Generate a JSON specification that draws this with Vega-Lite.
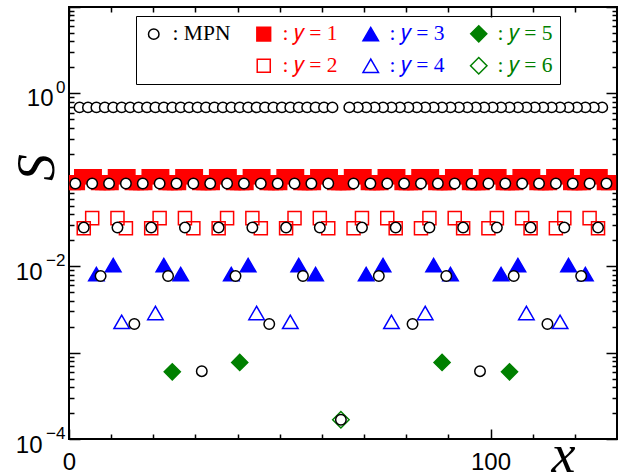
{
  "$schema": "https://vega.github.io/schema/vega-lite/v6.json",
  "width": 548,
  "height": 432,
  "autosize": "none",
  "padding": {"left": 69, "top": 7, "right": 8, "bottom": 37},
  "background": "white",
  "config": {
    "view": {"stroke": "black", "strokeWidth": 2},
    "axis": {"grid": false, "domain": false, "tickColor": "black", "tickWidth": 1.5, "labelColor": "black", "titleColor": "black"}
  },
  "data": {"values": [
    {"series":"y1","x":1,"S":0.093},{"series":"y1","x":2,"S":0.093},{"series":"y1","x":3,"S":0.109},{"series":"y1","x":4,"S":0.109},{"series":"y1","x":5,"S":0.109},{"series":"y1","x":6,"S":0.109},{"series":"y1","x":7,"S":0.093},{"series":"y1","x":8,"S":0.093},
    {"series":"y1","x":9,"S":0.093},{"series":"y1","x":10,"S":0.093},{"series":"y1","x":11,"S":0.109},{"series":"y1","x":12,"S":0.109},{"series":"y1","x":13,"S":0.109},{"series":"y1","x":14,"S":0.109},{"series":"y1","x":15,"S":0.093},{"series":"y1","x":16,"S":0.093},
    {"series":"y1","x":17,"S":0.093},{"series":"y1","x":18,"S":0.093},{"series":"y1","x":19,"S":0.109},{"series":"y1","x":20,"S":0.109},{"series":"y1","x":21,"S":0.109},{"series":"y1","x":22,"S":0.109},{"series":"y1","x":23,"S":0.093},{"series":"y1","x":24,"S":0.093},
    {"series":"y1","x":25,"S":0.093},{"series":"y1","x":26,"S":0.093},{"series":"y1","x":27,"S":0.109},{"series":"y1","x":28,"S":0.109},{"series":"y1","x":29,"S":0.109},{"series":"y1","x":30,"S":0.109},{"series":"y1","x":31,"S":0.093},{"series":"y1","x":32,"S":0.093},
    {"series":"y1","x":33,"S":0.093},{"series":"y1","x":34,"S":0.093},{"series":"y1","x":35,"S":0.109},{"series":"y1","x":36,"S":0.109},{"series":"y1","x":37,"S":0.109},{"series":"y1","x":38,"S":0.109},{"series":"y1","x":39,"S":0.093},{"series":"y1","x":40,"S":0.093},
    {"series":"y1","x":41,"S":0.093},{"series":"y1","x":42,"S":0.093},{"series":"y1","x":43,"S":0.109},{"series":"y1","x":44,"S":0.109},{"series":"y1","x":45,"S":0.109},{"series":"y1","x":46,"S":0.109},{"series":"y1","x":47,"S":0.093},{"series":"y1","x":48,"S":0.093},
    {"series":"y1","x":49,"S":0.093},{"series":"y1","x":50,"S":0.093},{"series":"y1","x":51,"S":0.109},{"series":"y1","x":52,"S":0.109},{"series":"y1","x":53,"S":0.109},{"series":"y1","x":54,"S":0.109},{"series":"y1","x":55,"S":0.093},{"series":"y1","x":56,"S":0.093},
    {"series":"y1","x":57,"S":0.093},{"series":"y1","x":58,"S":0.093},{"series":"y1","x":59,"S":0.109},{"series":"y1","x":60,"S":0.109},{"series":"y1","x":61,"S":0.109},{"series":"y1","x":62,"S":0.109},{"series":"y1","x":63,"S":0.093},{"series":"y1","x":64,"S":0.093},
    {"series":"y1","x":65,"S":0.093},{"series":"y1","x":66,"S":0.093},{"series":"y1","x":67,"S":0.109},{"series":"y1","x":68,"S":0.109},{"series":"y1","x":69,"S":0.109},{"series":"y1","x":70,"S":0.109},{"series":"y1","x":71,"S":0.093},{"series":"y1","x":72,"S":0.093},
    {"series":"y1","x":73,"S":0.093},{"series":"y1","x":74,"S":0.093},{"series":"y1","x":75,"S":0.109},{"series":"y1","x":76,"S":0.109},{"series":"y1","x":77,"S":0.109},{"series":"y1","x":78,"S":0.109},{"series":"y1","x":79,"S":0.093},{"series":"y1","x":80,"S":0.093},
    {"series":"y1","x":81,"S":0.093},{"series":"y1","x":82,"S":0.093},{"series":"y1","x":83,"S":0.109},{"series":"y1","x":84,"S":0.109},{"series":"y1","x":85,"S":0.109},{"series":"y1","x":86,"S":0.109},{"series":"y1","x":87,"S":0.093},{"series":"y1","x":88,"S":0.093},
    {"series":"y1","x":89,"S":0.093},{"series":"y1","x":90,"S":0.093},{"series":"y1","x":91,"S":0.109},{"series":"y1","x":92,"S":0.109},{"series":"y1","x":93,"S":0.109},{"series":"y1","x":94,"S":0.109},{"series":"y1","x":95,"S":0.093},{"series":"y1","x":96,"S":0.093},
    {"series":"y1","x":97,"S":0.093},{"series":"y1","x":98,"S":0.093},{"series":"y1","x":99,"S":0.109},{"series":"y1","x":100,"S":0.109},{"series":"y1","x":101,"S":0.109},{"series":"y1","x":102,"S":0.109},{"series":"y1","x":103,"S":0.093},{"series":"y1","x":104,"S":0.093},
    {"series":"y1","x":105,"S":0.093},{"series":"y1","x":106,"S":0.093},{"series":"y1","x":107,"S":0.109},{"series":"y1","x":108,"S":0.109},{"series":"y1","x":109,"S":0.109},{"series":"y1","x":110,"S":0.109},{"series":"y1","x":111,"S":0.093},{"series":"y1","x":112,"S":0.093},
    {"series":"y1","x":113,"S":0.093},{"series":"y1","x":114,"S":0.093},{"series":"y1","x":115,"S":0.109},{"series":"y1","x":116,"S":0.109},{"series":"y1","x":117,"S":0.109},{"series":"y1","x":118,"S":0.109},{"series":"y1","x":119,"S":0.093},{"series":"y1","x":120,"S":0.093},
    {"series":"y1","x":121,"S":0.093},{"series":"y1","x":122,"S":0.093},{"series":"y1","x":123,"S":0.109},{"series":"y1","x":124,"S":0.109},{"series":"y1","x":125,"S":0.109},{"series":"y1","x":126,"S":0.109},{"series":"y1","x":127,"S":0.093},{"series":"y1","x":128,"S":0.093},

    {"series":"y2","x":3.5,"S":0.0275},{"series":"y2","x":5.5,"S":0.036},{"series":"y2","x":11.5,"S":0.036},{"series":"y2","x":13.5,"S":0.0275},
    {"series":"y2","x":19.5,"S":0.0275},{"series":"y2","x":21.5,"S":0.036},{"series":"y2","x":27.5,"S":0.036},{"series":"y2","x":29.5,"S":0.0275},
    {"series":"y2","x":35.5,"S":0.0275},{"series":"y2","x":37.5,"S":0.036},{"series":"y2","x":43.5,"S":0.036},{"series":"y2","x":45.5,"S":0.0275},
    {"series":"y2","x":51.5,"S":0.0275},{"series":"y2","x":53.5,"S":0.036},{"series":"y2","x":59.5,"S":0.036},{"series":"y2","x":61.5,"S":0.0275},
    {"series":"y2","x":67.5,"S":0.0275},{"series":"y2","x":69.5,"S":0.036},{"series":"y2","x":75.5,"S":0.036},{"series":"y2","x":77.5,"S":0.0275},
    {"series":"y2","x":83.5,"S":0.0275},{"series":"y2","x":85.5,"S":0.036},{"series":"y2","x":91.5,"S":0.036},{"series":"y2","x":93.5,"S":0.0275},
    {"series":"y2","x":99.5,"S":0.0275},{"series":"y2","x":101.5,"S":0.036},{"series":"y2","x":107.5,"S":0.036},{"series":"y2","x":109.5,"S":0.0275},
    {"series":"y2","x":115.5,"S":0.0275},{"series":"y2","x":117.5,"S":0.036},{"series":"y2","x":123.5,"S":0.036},{"series":"y2","x":125.5,"S":0.0275},

    {"series":"y3","x":6.5,"S":0.0081},{"series":"y3","x":10.5,"S":0.0103},{"series":"y3","x":22.5,"S":0.0103},{"series":"y3","x":26.5,"S":0.0081},
    {"series":"y3","x":38.5,"S":0.0081},{"series":"y3","x":42.5,"S":0.0103},{"series":"y3","x":54.5,"S":0.0103},{"series":"y3","x":58.5,"S":0.0081},
    {"series":"y3","x":70.5,"S":0.0081},{"series":"y3","x":74.5,"S":0.0103},{"series":"y3","x":86.5,"S":0.0103},{"series":"y3","x":90.5,"S":0.0081},
    {"series":"y3","x":102.5,"S":0.0081},{"series":"y3","x":106.5,"S":0.0103},{"series":"y3","x":118.5,"S":0.0103},{"series":"y3","x":122.5,"S":0.0081},

    {"series":"y4","x":12.5,"S":0.00227},{"series":"y4","x":20.5,"S":0.00287},{"series":"y4","x":44.5,"S":0.00287},{"series":"y4","x":52.5,"S":0.00227},
    {"series":"y4","x":76.5,"S":0.00227},{"series":"y4","x":84.5,"S":0.00287},{"series":"y4","x":108.5,"S":0.00287},{"series":"y4","x":116.5,"S":0.00227},

    {"series":"y5","x":24.5,"S":0.0006},{"series":"y5","x":40.5,"S":0.00077},{"series":"y5","x":88.5,"S":0.00077},{"series":"y5","x":104.5,"S":0.0006},

    {"series":"y6","x":64.5,"S":0.000167},

    {"series":"MPN","x":2.5,"S":0.689},{"series":"MPN","x":4.5,"S":0.689},{"series":"MPN","x":6.5,"S":0.689},{"series":"MPN","x":8.5,"S":0.689},{"series":"MPN","x":10.5,"S":0.689},{"series":"MPN","x":12.5,"S":0.689},{"series":"MPN","x":14.5,"S":0.689},{"series":"MPN","x":16.5,"S":0.689},
    {"series":"MPN","x":18.5,"S":0.689},{"series":"MPN","x":20.5,"S":0.689},{"series":"MPN","x":22.5,"S":0.689},{"series":"MPN","x":24.5,"S":0.689},{"series":"MPN","x":26.5,"S":0.689},{"series":"MPN","x":28.5,"S":0.689},{"series":"MPN","x":30.5,"S":0.689},{"series":"MPN","x":32.5,"S":0.689},
    {"series":"MPN","x":34.5,"S":0.689},{"series":"MPN","x":36.5,"S":0.689},{"series":"MPN","x":38.5,"S":0.689},{"series":"MPN","x":40.5,"S":0.689},{"series":"MPN","x":42.5,"S":0.689},{"series":"MPN","x":44.5,"S":0.689},{"series":"MPN","x":46.5,"S":0.689},{"series":"MPN","x":48.5,"S":0.689},
    {"series":"MPN","x":50.5,"S":0.689},{"series":"MPN","x":52.5,"S":0.689},{"series":"MPN","x":54.5,"S":0.689},{"series":"MPN","x":56.5,"S":0.689},{"series":"MPN","x":58.5,"S":0.689},{"series":"MPN","x":60.5,"S":0.689},{"series":"MPN","x":62.5,"S":0.689},
    {"series":"MPN","x":126.5,"S":0.689},{"series":"MPN","x":124.5,"S":0.689},{"series":"MPN","x":122.5,"S":0.689},{"series":"MPN","x":120.5,"S":0.689},{"series":"MPN","x":118.5,"S":0.689},{"series":"MPN","x":116.5,"S":0.689},{"series":"MPN","x":114.5,"S":0.689},{"series":"MPN","x":112.5,"S":0.689},
    {"series":"MPN","x":110.5,"S":0.689},{"series":"MPN","x":108.5,"S":0.689},{"series":"MPN","x":106.5,"S":0.689},{"series":"MPN","x":104.5,"S":0.689},{"series":"MPN","x":102.5,"S":0.689},{"series":"MPN","x":100.5,"S":0.689},{"series":"MPN","x":98.5,"S":0.689},{"series":"MPN","x":96.5,"S":0.689},
    {"series":"MPN","x":94.5,"S":0.689},{"series":"MPN","x":92.5,"S":0.689},{"series":"MPN","x":90.5,"S":0.689},{"series":"MPN","x":88.5,"S":0.689},{"series":"MPN","x":86.5,"S":0.689},{"series":"MPN","x":84.5,"S":0.689},{"series":"MPN","x":82.5,"S":0.689},{"series":"MPN","x":80.5,"S":0.689},
    {"series":"MPN","x":78.5,"S":0.689},{"series":"MPN","x":76.5,"S":0.689},{"series":"MPN","x":74.5,"S":0.689},{"series":"MPN","x":72.5,"S":0.689},{"series":"MPN","x":70.5,"S":0.689},{"series":"MPN","x":68.5,"S":0.689},{"series":"MPN","x":66.5,"S":0.689},

    {"series":"MPN","x":1.5,"S":0.0907},{"series":"MPN","x":5.5,"S":0.0907},{"series":"MPN","x":9.5,"S":0.0907},{"series":"MPN","x":13.5,"S":0.0907},{"series":"MPN","x":17.5,"S":0.0907},{"series":"MPN","x":21.5,"S":0.0907},{"series":"MPN","x":25.5,"S":0.0907},{"series":"MPN","x":29.5,"S":0.0907},
    {"series":"MPN","x":33.5,"S":0.0907},{"series":"MPN","x":37.5,"S":0.0907},{"series":"MPN","x":41.5,"S":0.0907},{"series":"MPN","x":45.5,"S":0.0907},{"series":"MPN","x":49.5,"S":0.0907},{"series":"MPN","x":53.5,"S":0.0907},{"series":"MPN","x":57.5,"S":0.0907},{"series":"MPN","x":61.5,"S":0.0907},
    {"series":"MPN","x":67.5,"S":0.0907},{"series":"MPN","x":71.5,"S":0.0907},{"series":"MPN","x":75.5,"S":0.0907},{"series":"MPN","x":79.5,"S":0.0907},{"series":"MPN","x":83.5,"S":0.0907},{"series":"MPN","x":87.5,"S":0.0907},{"series":"MPN","x":91.5,"S":0.0907},{"series":"MPN","x":95.5,"S":0.0907},
    {"series":"MPN","x":99.5,"S":0.0907},{"series":"MPN","x":103.5,"S":0.0907},{"series":"MPN","x":107.5,"S":0.0907},{"series":"MPN","x":111.5,"S":0.0907},{"series":"MPN","x":115.5,"S":0.0907},{"series":"MPN","x":119.5,"S":0.0907},{"series":"MPN","x":123.5,"S":0.0907},{"series":"MPN","x":127.5,"S":0.0907},

    {"series":"MPN","x":3.5,"S":0.028},{"series":"MPN","x":11.5,"S":0.028},{"series":"MPN","x":19.5,"S":0.028},{"series":"MPN","x":27.5,"S":0.028},{"series":"MPN","x":35.5,"S":0.028},{"series":"MPN","x":43.5,"S":0.028},{"series":"MPN","x":51.5,"S":0.028},{"series":"MPN","x":59.5,"S":0.028},
    {"series":"MPN","x":69.5,"S":0.028},{"series":"MPN","x":77.5,"S":0.028},{"series":"MPN","x":85.5,"S":0.028},{"series":"MPN","x":93.5,"S":0.028},{"series":"MPN","x":101.5,"S":0.028},{"series":"MPN","x":109.5,"S":0.028},{"series":"MPN","x":117.5,"S":0.028},{"series":"MPN","x":125.5,"S":0.028},

    {"series":"MPN","x":7.5,"S":0.0077},{"series":"MPN","x":23.5,"S":0.0077},{"series":"MPN","x":39.5,"S":0.0077},{"series":"MPN","x":55.5,"S":0.0077},{"series":"MPN","x":73.5,"S":0.0077},{"series":"MPN","x":89.5,"S":0.0077},{"series":"MPN","x":105.5,"S":0.0077},{"series":"MPN","x":121.5,"S":0.0077},

    {"series":"MPN","x":15.5,"S":0.00214},{"series":"MPN","x":47.5,"S":0.00214},{"series":"MPN","x":81.5,"S":0.00214},{"series":"MPN","x":113.5,"S":0.00214},

    {"series":"MPN","x":31.5,"S":0.00061},{"series":"MPN","x":97.5,"S":0.00061},

    {"series":"MPN","x":64.5,"S":0.000167}
  ]},
  "layer": [
    {
      "mark": {"type": "point", "opacity": 0},
      "encoding": {
        "x": {"field": "x", "type": "quantitative", "scale": {"domain": [0, 130], "nice": false, "zero": false},
              "axis": {"orient": "bottom", "values": [10,20,30,40,50,60,70,80,90,110,120], "labels": false, "ticks": true, "tickSize": 5, "offset": -5, "title": null}},
        "y": {"field": "S", "type": "quantitative", "scale": {"type": "log", "domain": [0.0001, 10], "nice": false},
              "axis": {"orient": "left", "values": [0.0002,0.0003,0.0004,0.0005,0.0006,0.0007,0.0008,0.0009,0.002,0.003,0.004,0.005,0.006,0.007,0.008,0.009,0.02,0.03,0.04,0.05,0.06,0.07,0.08,0.09,0.2,0.3,0.4,0.5,0.6,0.7,0.8,0.9,2,3,4,5,6,7,8,9], "labels": false, "ticks": true, "tickSize": 5, "offset": -5, "title": null}}
      }
    },
    {
      "mark": {"type": "point", "opacity": 0},
      "encoding": {
        "x": {"field": "x", "type": "quantitative", "scale": {"domain": [0, 130], "nice": false, "zero": false},
              "axis": {"orient": "bottom", "values": [0, 100], "labels": false, "ticks": true, "tickSize": 10, "offset": -10, "title": null}},
        "y": {"field": "S", "type": "quantitative", "scale": {"type": "log", "domain": [0.0001, 10], "nice": false},
              "axis": {"orient": "left", "values": [0.0001, 0.001, 0.01, 0.1, 1, 10], "labels": false, "ticks": true, "tickSize": 11, "offset": -11, "title": null}}
      }
    },
    {
      "mark": {"type": "point", "opacity": 0},
      "encoding": {
        "x": {"field": "x", "type": "quantitative", "scale": {"domain": [0, 130], "nice": false, "zero": false},
              "axis": {"orient": "top", "values": [10,20,30,40,50,60,70,80,90,110,120], "labels": false, "ticks": true, "tickSize": 5, "offset": -5, "title": null}},
        "y": {"field": "S", "type": "quantitative", "scale": {"type": "log", "domain": [0.0001, 10], "nice": false},
              "axis": {"orient": "right", "values": [0.0002,0.0003,0.0004,0.0005,0.0006,0.0007,0.0008,0.0009,0.002,0.003,0.004,0.005,0.006,0.007,0.008,0.009,0.02,0.03,0.04,0.05,0.06,0.07,0.08,0.09,0.2,0.3,0.4,0.5,0.6,0.7,0.8,0.9,2,3,4,5,6,7,8,9], "labels": false, "ticks": true, "tickSize": 5, "offset": -5, "title": null}}
      }
    },
    {
      "mark": {"type": "point", "opacity": 0},
      "encoding": {
        "x": {"field": "x", "type": "quantitative", "scale": {"domain": [0, 130], "nice": false, "zero": false},
              "axis": {"orient": "top", "values": [0, 100], "labels": false, "ticks": true, "tickSize": 10, "offset": -10, "title": null}},
        "y": {"field": "S", "type": "quantitative", "scale": {"type": "log", "domain": [0.0001, 10], "nice": false},
              "axis": {"orient": "right", "values": [0.0001, 0.001, 0.01, 0.1, 1, 10], "labels": false, "ticks": true, "tickSize": 11, "offset": -11, "title": null}}
      }
    },
    {
      "mark": {"type": "point", "opacity": 0},
      "encoding": {
        "x": {"field": "x", "type": "quantitative", "scale": {"domain": [0, 130], "nice": false, "zero": false},
              "axis": {"orient": "bottom", "values": [0, 100], "ticks": false, "labels": true, "labelFont": "Liberation Sans", "labelFontSize": 24, "labelPadding": 11, "labelFlush": false, "labelOverlap": false,
                       "title": "x", "titleFont": "Liberation Serif", "titleFontStyle": "italic", "titleFontWeight": "normal", "titleFontSize": 54, "titleX": 494, "titleY": 32, "titleAlign": "center", "titleBaseline": "alphabetic"}},
        "y": {"field": "S", "type": "quantitative", "scale": {"type": "log", "domain": [0.0001, 10], "nice": false},
              "axis": {"orient": "left", "values": [0.0001, 0.01], "labelExpr": "'10'", "ticks": false, "labels": true, "labelFont": "Liberation Sans", "labelFontSize": 24, "labelPadding": 27, "labelOffset": 6, "labelBaseline": "middle", "labelFlush": false, "labelOverlap": false,
                       "title": "S", "titleFont": "Liberation Serif", "titleFontStyle": "italic", "titleFontWeight": "normal", "titleFontSize": 54, "titleX": -16, "titleY": 160, "titleAlign": "center", "titleBaseline": "alphabetic", "titleAngle": 270}}
      }
    },
    {
      "mark": {"type": "point", "opacity": 0},
      "encoding": {
        "x": {"field": "x", "type": "quantitative", "scale": {"domain": [0, 130], "nice": false, "zero": false}, "axis": null},
        "y": {"field": "S", "type": "quantitative", "scale": {"type": "log", "domain": [0.0001, 10], "nice": false},
              "axis": {"orient": "left", "values": [1], "labelExpr": "'10'", "ticks": false, "labels": true, "labelFont": "Liberation Sans", "labelFontSize": 24, "labelPadding": 16, "labelOffset": 5, "labelBaseline": "middle", "labelFlush": false, "labelOverlap": false, "title": null}}
      }
    },
    {
      "mark": {"type": "point", "opacity": 0},
      "encoding": {
        "x": {"field": "x", "type": "quantitative", "scale": {"domain": [0, 130], "nice": false, "zero": false}, "axis": null},
        "y": {"field": "S", "type": "quantitative", "scale": {"type": "log", "domain": [0.0001, 10], "nice": false},
              "axis": {"orient": "left", "values": [0.0001, 0.01, 1], "labelExpr": "datum.value < 0.001 ? '\u22124' : datum.value < 0.1 ? '\u22122' : '0'", "ticks": false, "labels": true, "labelFont": "Liberation Sans", "labelFontSize": 17, "labelPadding": 4, "labelOffset": -6, "labelBaseline": "middle", "labelFlush": false, "labelOverlap": false, "title": null}}
      }
    },
    {
      "mark": {"type": "point", "opacity": 1, "strokeWidth": 1.5, "clip": true},
      "encoding": {
        "x": {"field": "x", "type": "quantitative", "scale": {"domain": [0, 130], "nice": false, "zero": false}, "axis": null},
        "y": {"field": "S", "type": "quantitative", "scale": {"type": "log", "domain": [0.0001, 10], "nice": false}, "axis": null},
        "shape": {"field": "series", "type": "nominal",
                  "scale": {"domain": ["MPN","blank","y1","y2","y3","y4","y5","y6"], "range": ["circle","circle","square","square","triangle-up","triangle-up","diamond","diamond"]},
                  "legend": {"title": null, "orient": "none", "legendX": 67, "legendY": 9, "columns": 4, "strokeColor": "black", "padding": 7, "columnPadding": 22, "rowPadding": 9, "labelOffset": 8, "symbolStrokeWidth": 1.5,
                             "labelFont": "Liberation Serif", "labelFontSize": 21.5, "labelBaseline": "middle",
                             "labelExpr": "datum.value == 'MPN' ? ': MPN' : datum.value == 'blank' ? '' : ': 𝑦 = ' + substring(datum.value, 1)",
                             "labelColor": {"expr": "datum.value == 'MPN' ? 'black' : (datum.value == 'y1' || datum.value == 'y2') ? '#ff0000' : (datum.value == 'y3' || datum.value == 'y4') ? '#0000ff' : '#008000'"}}},
        "stroke": {"field": "series", "type": "nominal",
                   "scale": {"domain": ["MPN","blank","y1","y2","y3","y4","y5","y6"], "range": ["black","transparent","#ff0000","#ff0000","#0000ff","#0000ff","#008000","#008000"]},
                   "legend": {"title": null, "orient": "none", "legendX": 67, "legendY": 9, "columns": 4}},
        "fill": {"field": "series", "type": "nominal",
                 "scale": {"domain": ["MPN","blank","y1","y2","y3","y4","y5","y6"], "range": ["white","transparent","#ff0000","transparent","#0000ff","transparent","#008000","transparent"]},
                 "legend": {"title": null, "orient": "none", "legendX": 67, "legendY": 9, "columns": 4}},
        "size": {"field": "series", "type": "nominal",
                 "scale": {"type": "ordinal", "domain": ["MPN","blank","y1","y2","y3","y4","y5","y6"], "range": [110, 0, 190, 170, 240, 240, 260, 270]},
                 "legend": {"title": null, "orient": "none", "legendX": 67, "legendY": 9, "columns": 4}}
      }
    }
  ],
  "resolve": {"axis": {"x": "independent", "y": "independent"}}
}
